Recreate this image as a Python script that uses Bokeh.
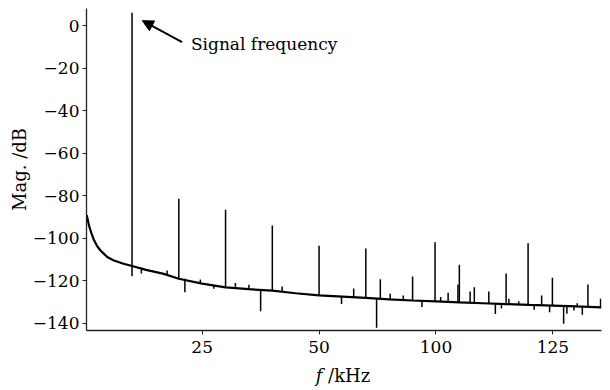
from bokeh.plotting import figure
from bokeh.layouts import column
from bokeh.models import Range1d, FixedTicker, Arrow, NormalHead, Div
from bokeh.core.properties import value
from bokeh.embed import file_html
from bokeh.resources import INLINE

# ---- data ----
freq_floor = [0.3, 0.8, 1.3, 1.8, 2.5, 3.25, 4.0, 4.7, 6.0, 8.0, 10.0, 13.0, 16.8, 20.0,
              25.0, 30.0, 35.0, 40.0, 45.0, 50.0, 55.0, 60.0, 65.0, 70.0, 75.0, 80.0,
              85.0, 90.0, 95.0, 100.0, 105.0, 110.4]
mag_floor = [-89.0, -94.0, -97.5, -100.5, -103.5, -105.7, -107.3, -108.8, -110.3, -111.8,
             -113.0, -114.8, -116.7, -119.0, -121.3, -123.0, -123.9, -124.6, -125.8, -126.8,
             -127.4, -128.0, -128.7, -129.2, -129.6, -130.1, -130.5, -130.9, -131.3, -131.6,
             -132.0, -132.4]

spike_freq = [10.0, 20.0, 30.0, 40.0, 50.0, 60.0, 74.8, 94.7,
              12.0, 17.5, 21.3, 24.6, 27.5, 32.1, 35.0, 37.5, 42.1, 54.8, 57.4, 62.3, 63.1,
              65.2, 68.0, 70.0, 72.0, 76.0, 77.6, 79.7, 80.0, 82.3, 83.2, 86.3, 87.7, 89.0,
              90.0, 90.6, 92.7, 96.0, 97.6, 99.3, 99.9, 102.3, 103.0, 104.5, 105.2, 106.3,
              107.5, 110.2]
spike_base = [-117.8, -119.0, -123.0, -124.6, -126.8, -128.0, -129.6, -131.3,
              -113.8, -117.0, -119.0, -121.0, -122.2, -123.4, -123.9, -124.3, -125.0, -127.3,
              -127.6, -128.3, -128.4, -128.8, -129.1, -129.2, -129.4, -129.7, -129.9, -130.1,
              -130.1, -130.3, -130.4, -130.6, -130.8, -130.8, -130.9, -130.9, -131.1, -131.4,
              -131.5, -131.6, -131.6, -131.8, -131.8, -131.9, -132.0, -132.0, -132.1, -132.4]
spike_peak = [6.0, -81.4, -86.6, -94.0, -103.5, -104.8, -101.8, -102.3,
              -116.5, -115.1, -125.3, -119.3, -123.7, -121.0, -121.8, -134.2, -122.6, -130.8,
              -123.6, -142.0, -119.2, -126.0, -126.8, -117.9, -132.3, -127.6, -125.6, -121.7,
              -112.4, -125.0, -123.0, -125.0, -135.5, -133.0, -116.5, -128.4, -129.5, -133.6,
              -126.8, -134.7, -118.5, -140.1, -135.4, -133.9, -130.5, -135.9, -121.7, -128.4]

x_ticks = [25, 50, 75, 100]
x_tick_labels = ["25", "50", "100", "125"]
y_ticks = [0, -20, -40, -60, -80, -100, -120, -140]
y_tick_labels = ["0", "\u221220", "\u221240", "\u221260", "\u221280", "\u2212100", "\u2212120", "\u2212140"]

FONT = "DejaVu Serif"

p = figure(width=610, height=360, output_backend="svg", toolbar_location=None,
           x_range=Range1d(0.26, 110.4), y_range=Range1d(-143.3, 8.0),
           min_border_left=86, min_border_right=9, min_border_top=8, min_border_bottom=30)
p.outline_line_color = None
p.xgrid.visible = False
p.ygrid.visible = False
p.background_fill_color = "white"
p.border_fill_color = "white"

p.segment(x0=spike_freq, y0=spike_base, x1=spike_freq, y1=spike_peak,
          line_color="black", line_width=1.5)
p.line(freq_floor, mag_floor, line_color="black", line_width=2.2)

for ax in (p.xaxis[0], p.yaxis[0]):
    ax.axis_line_color = "#222222"
    ax.axis_line_width = 1.3
    ax.major_tick_line_color = "#222222"
    ax.major_tick_out = 4
    ax.major_tick_in = 0
    ax.minor_tick_line_color = None
    ax.major_label_text_font = FONT
    ax.major_label_text_font_size = "17px"
    ax.major_label_text_color = "black"
    ax.axis_label_text_font = FONT
    ax.axis_label_text_font_size = "18px"
    ax.axis_label_text_font_style = "normal"
    ax.axis_label_text_color = "black"

p.xaxis.ticker = FixedTicker(ticks=x_ticks)
p.xaxis.major_label_overrides = dict(zip(x_ticks, x_tick_labels))
p.xaxis.major_label_standoff = 6
p.yaxis.ticker = FixedTicker(ticks=y_ticks)
p.yaxis.major_label_overrides = dict(zip(y_ticks, y_tick_labels))
p.yaxis.major_label_standoff = 3
p.yaxis.axis_label = "Mag. /dB"
p.yaxis.axis_label_standoff = 0

# annotation
p.add_layout(Arrow(x_start=20.7, y_start=-7.8, x_end=12.2, y_end=2.3,
                   line_color="black", line_width=2,
                   end=NormalHead(size=11, fill_color="black", line_color="black")))
p.text(x=[22.6], y=[-8.6], text=["Signal frequency"], text_font=value(FONT),
       text_font_size="17px", text_baseline="middle", text_align="left", text_color="black")

xlabel = Div(text='<div style="font-family:\'DejaVu Serif\',serif;font-size:18px;'
                  'line-height:24px;box-sizing:border-box;width:610px;padding-left:76px;'
                  'padding-top:4px;text-align:center;color:black;">'
                  '<i>f</i> /kHz</div>',
             width=610, height=30, margin=0)

layout = column(p, xlabel, spacing=0)
open("out.html", "w").write(file_html(layout, INLINE))
